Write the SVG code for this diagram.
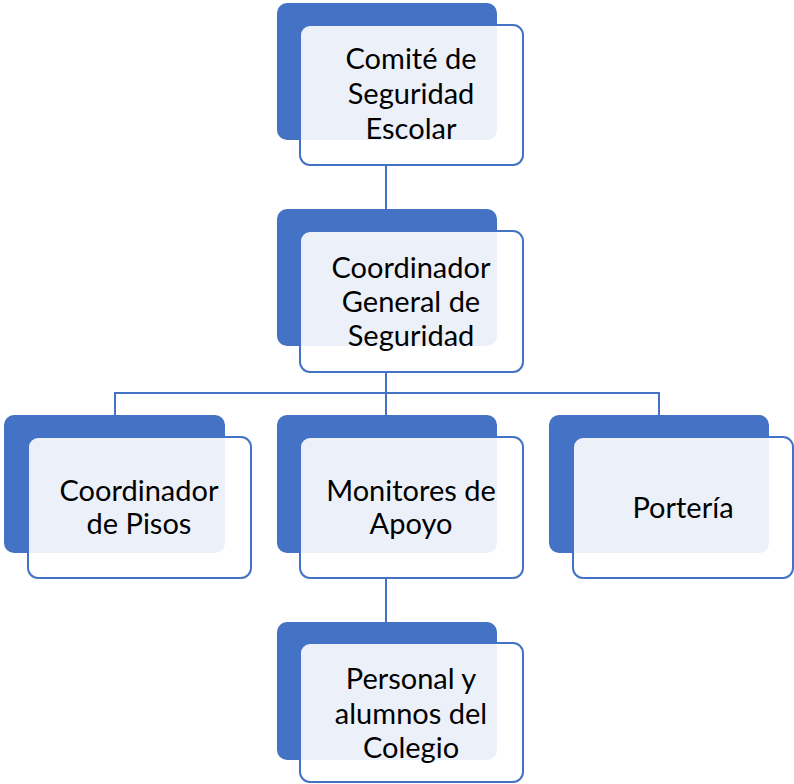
<svg xmlns="http://www.w3.org/2000/svg" width="794" height="784" viewBox="0 0 794 784">
<style>
.back{fill:#4472C4}
.front{fill:#FFFFFF;fill-opacity:0.9;stroke:#4472C4;stroke-width:2}
.conn{stroke:#4472C4;stroke-width:2;fill:none}
text{font-family:Lato,"Open Sans","Liberation Sans",sans-serif;font-size:29px;fill:#000;text-anchor:middle}
</style>
<rect width="794" height="784" fill="#fff"/>
<g id="connectors">
<line class="conn" x1="386" y1="165" x2="386" y2="209"/>
<path class="conn" d="M386 372V393M115 415V393H659V415M386 393V415"/>
<line class="conn" x1="386" y1="578" x2="386" y2="622"/>
</g>
<g id="n1">
<rect class="back" x="277" y="3" width="220" height="137" rx="10"/>
<rect class="front" x="300" y="25" width="223" height="140" rx="10"/>
<text x="411" y="69">Comité de</text>
<text x="411" y="104">Seguridad</text>
<text x="411" y="139">Escolar</text>
</g>
<g id="n2">
<rect class="back" x="277" y="209" width="220" height="137" rx="10"/>
<rect class="front" x="300" y="231" width="223" height="141" rx="10"/>
<text x="411" y="278">Coordinador</text>
<text x="411" y="312">General de</text>
<text x="411" y="346">Seguridad</text>
</g>
<g id="n3">
<rect class="back" x="4" y="415" width="221" height="138" rx="10"/>
<rect class="front" x="28" y="437" width="223" height="141" rx="10"/>
<text x="139" y="501">Coordinador</text>
<text x="139" y="534">de Pisos</text>
</g>
<g id="n4">
<rect class="back" x="277" y="415" width="220" height="138" rx="10"/>
<rect class="front" x="300" y="437" width="223" height="141" rx="10"/>
<text x="411" y="501">Monitores de</text>
<text x="411" y="534">Apoyo</text>
</g>
<g id="n5">
<rect class="back" x="549" y="415" width="220" height="138" rx="10"/>
<rect class="front" x="573" y="437" width="220" height="141" rx="10"/>
<text x="683" y="518">Portería</text>
</g>
<g id="n6">
<rect class="back" x="277" y="622" width="220" height="138" rx="10"/>
<rect class="front" x="300" y="643" width="223" height="139" rx="10"/>
<text x="411" y="689">Personal y</text>
<text x="411" y="724">alumnos del</text>
<text x="411" y="758">Colegio</text>
</g>
</svg>
